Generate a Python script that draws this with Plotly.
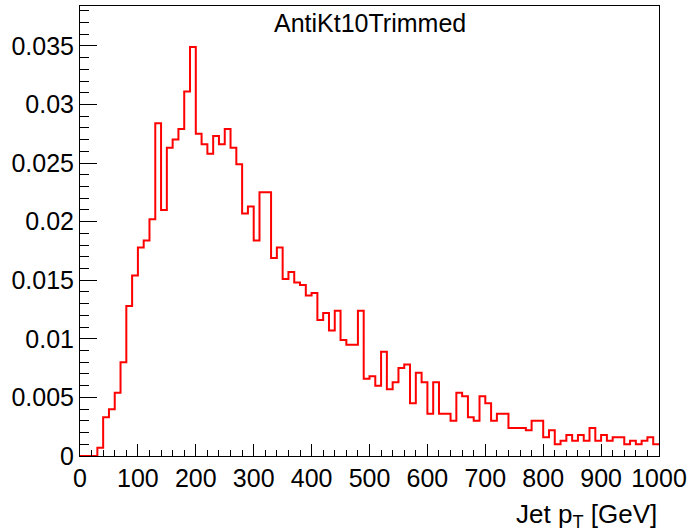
import plotly.graph_objects as go

bin_edges = [10 * i for i in range(101)]
values = [
    0, 0, 0, 0.0007, 0.0033, 0.0040, 0.0054, 0.0080, 0.0128, 0.0154,
    0.0178, 0.0184, 0.0202, 0.0284, 0.0210, 0.0263, 0.0270, 0.0279, 0.0311, 0.0349,
    0.0275, 0.0266, 0.0258, 0.0273, 0.0266, 0.0279, 0.0263, 0.0249, 0.0207, 0.0213,
    0.0184, 0.0225, 0.0225, 0.0169, 0.0178, 0.0151, 0.0157, 0.0148, 0.0146, 0.0137,
    0.0139, 0.0116, 0.0122, 0.0107, 0.0124, 0.0099, 0.0095, 0.0095, 0.0124, 0.0066,
    0.0068, 0.0060, 0.0089, 0.0057, 0.0063, 0.0075, 0.0078, 0.0045, 0.0071, 0.0063,
    0.0036, 0.0063, 0.0036, 0.0036, 0.0030, 0.0054, 0.0051, 0.0033, 0.0030, 0.0051,
    0.0045, 0.0030, 0.0036, 0.0036, 0.0024, 0.0024, 0.0024, 0.0022, 0.0030, 0.0030,
    0.0016, 0.0022, 0.0010, 0.0013, 0.0018, 0.0013, 0.0018, 0.0013, 0.0024, 0.0013,
    0.0018, 0.0013, 0.0016, 0.0016, 0.0010, 0.0013, 0.0010, 0.0013, 0.0016, 0.0010,
]
x_tickvals = [0, 100, 200, 300, 400, 500, 600, 700, 800, 900, 1000]
x_ticktext = ["0", "100", "200", "300", "400", "500", "600", "700", "800", "900", "1000"]
y_tickvals = [0, 0.005, 0.01, 0.015, 0.02, 0.025, 0.03, 0.035]
y_ticktext = ["0", "0.005", "0.01", "0.015", "0.02", "0.025", "0.03", "0.035"]
title_text = "AntiKt10Trimmed"
x_title = "Jet p<sub>T</sub> [GeV]"

xs = bin_edges[:]
ys = values + [values[-1]]

FONT = "Liberation Sans, Arial, Helvetica, sans-serif"

fig = go.Figure()
fig.add_trace(go.Scatter(
    x=xs, y=ys, mode="lines", line=dict(color="#ff0000", width=2, shape="hv"),
    showlegend=False, hoverinfo="skip",
))

fig.update_layout(
    width=692, height=532,
    margin=dict(l=80, r=31, t=5, b=76),
    paper_bgcolor="white", plot_bgcolor="white",
    font=dict(family=FONT, size=25, color="black"),
    xaxis=dict(
        range=[0, 1000], showgrid=False, zeroline=False,
        showline=True, linecolor="black", linewidth=1, mirror=True,
        ticks="inside", ticklen=12, tickwidth=1, tickcolor="black",
        tickmode="array", tickvals=x_tickvals, ticktext=x_ticktext,
        tickfont=dict(size=25),
        minor=dict(tickmode="linear", tick0=0, dtick=20, ticks="inside",
                   ticklen=6, tickwidth=1, tickcolor="black", showgrid=False),
    ),
    yaxis=dict(
        range=[0, 0.0384], showgrid=False, zeroline=False,
        showline=True, linecolor="black", linewidth=1, mirror=True,
        ticks="inside", ticklen=17, tickwidth=1, tickcolor="black",
        tickmode="array", tickvals=y_tickvals, ticktext=y_ticktext,
        tickfont=dict(size=25),
        minor=dict(tickmode="linear", tick0=0, dtick=0.001, ticks="inside",
                   ticklen=9, tickwidth=1, tickcolor="black", showgrid=False),
    ),
    annotations=[
        dict(text=title_text, xref="paper", yref="paper", x=0.5, y=1,
             xanchor="center", yanchor="middle", yshift=-17, showarrow=False,
             font=dict(size=25, family=FONT, color="black")),
        dict(text=x_title, xref="paper", yref="paper", x=1, y=0,
             xanchor="right", yanchor="middle", yshift=-59, showarrow=False,
             font=dict(size=26, family=FONT, color="black")),
    ],
)

fig.write_html("out.html")
